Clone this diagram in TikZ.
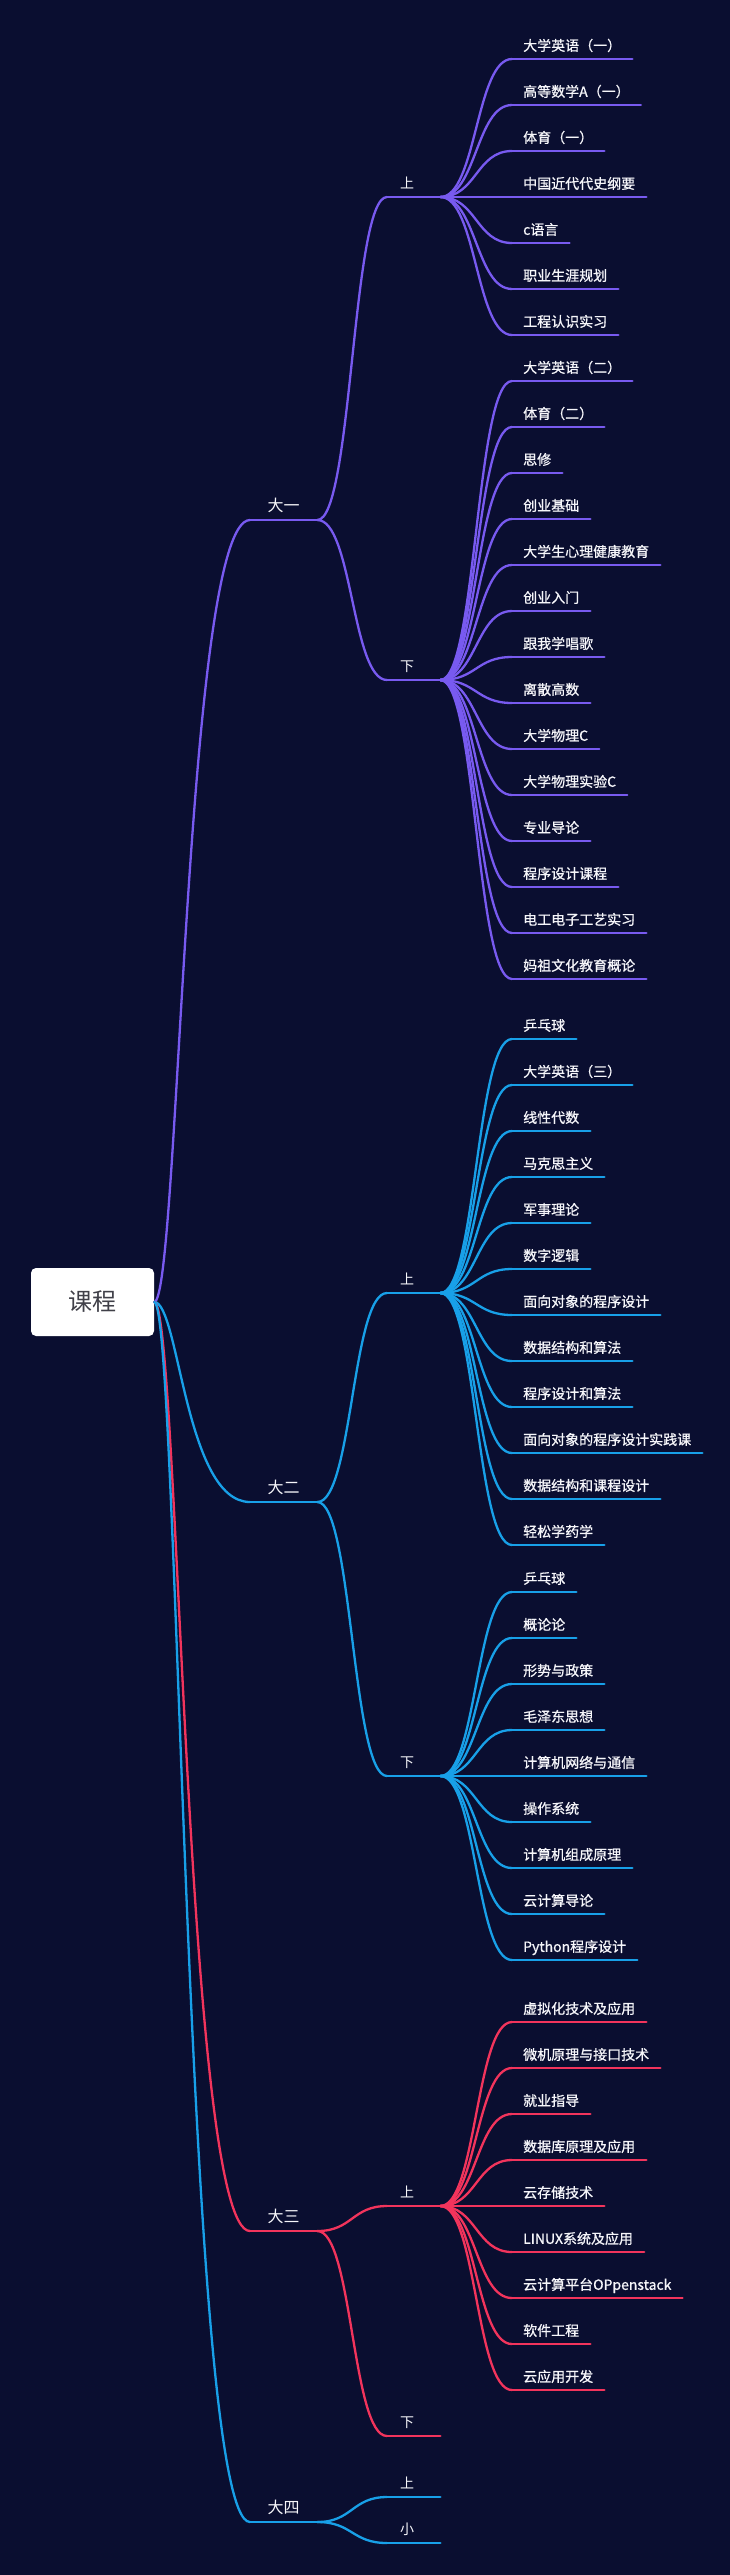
\documentclass[tikz,border=0pt]{standalone}
\usepackage{fontspec}
\newfontfamily\cjk[RawFeature={embolden=0.8}]{Noto Sans CJK SC}
\newfontfamily\cjkplain{Noto Sans CJK SC}
\definecolor{bgcol}{RGB}{10,14,48}
\definecolor{cpurple}{RGB}{120,90,240}
\definecolor{ccyan}{RGB}{24,160,232}
\definecolor{cred}{RGB}{242,52,92}
\definecolor{ctext}{RGB}{246,246,250}
\definecolor{croot}{RGB}{64,64,72}
\tikzset{
  branch/.style={
    draw=#1,
    line width=2.3pt,
    line cap=round,
  },
  rootbox/.style={
    fill=white,
    rounded corners=5pt,
    minimum width=123pt,
    minimum height=68pt,
    text=croot,
    font=\cjkplain\fontsize{24}{24}\selectfont,
  },
  year/.style={
    anchor=south west,
    text=ctext,
    font=\cjkplain\fontsize{16}{16}\selectfont,
    inner xsep=17.5pt,
    inner ysep=5pt,
    text height=12pt,
    text depth=3pt,
    append after command={(\tikzlastnode.south west) edge[branch=#1] (\tikzlastnode.south east)},
  },
  term/.style={
    anchor=south west,
    text=ctext,
    font=\cjkplain\fontsize{14}{14}\selectfont,
    text width=27pt,
    align=left,
    inner xsep=13pt,
    inner ysep=5pt,
    text height=10pt,
    text depth=3pt,
    append after command={(\tikzlastnode.south west) edge[branch=#1] (\tikzlastnode.south east)},
  },
  leaf/.style={
    anchor=south west,
    text=ctext,
    font=\cjk\fontsize{14}{14}\selectfont,
    inner xsep=11pt,
    inner ysep=5pt,
    text height=10pt,
    text depth=3pt,
    append after command={(\tikzlastnode.south west) edge[branch=#1] (\tikzlastnode.south east)},
  }
}

\begin{document}
\begin{tikzpicture}[x=1pt, y=-1pt]
        \fill[bgcol] (0,0) rectangle (730,2575);

        \node [rootbox] (root) at (92.5,1302) {课程};

        \node [year=cpurple] (y1) at (250,520) {大一};
        \node [year=ccyan] (y2) at (250,1502) {大二};
        \node [year=cred] (y3) at (250,2231) {大三};
        \node [year=ccyan] (y4) at (250,2522) {大四};

        \draw [branch=cpurple] (root.east) .. controls +(25,0) and +(-65,0) .. (y1.south west);
        \draw [branch=ccyan] (root.east) .. controls +(25,0) and +(-65,0) .. (y2.south west);
        \draw [branch=cred] (root.east) .. controls +(25,0) and +(-65,0) .. (y3.south west);
        \draw [branch=ccyan] (root.east) .. controls +(25,0) and +(-65,0) .. (y4.south west);

        \node [term=cpurple] (y1a) at (387,197) {上};
        \node [term=cpurple] (y1b) at (387,680) {下};
        \node [term=ccyan] (y2a) at (387,1293) {上};
        \node [term=ccyan] (y2b) at (387,1776) {下};
        \node [term=cred] (y3a) at (387,2206) {上};
        \node [term=cred] (y3b) at (387,2436) {下};
        \node [term=ccyan] (y4a) at (387,2497) {上};
        \node [term=ccyan] (y4b) at (387,2543) {小};

        \foreach \p/\c/\col in {y1/y1a/cpurple, y1/y1b/cpurple, y2/y2a/ccyan, y2/y2b/ccyan,
                                y3/y3a/cred, y3/y3b/cred, y4/y4a/ccyan, y4/y4b/ccyan}
          \draw [branch=\col] (\p.south east) .. controls +(35,0) and +(-35,0) .. (\c.south west);

        % first year
        \foreach \t [count=\i from 0] in {大学英语（一）, 高等数学A（一）, 体育（一）, 中国近代代史纲要,
                                          c语言, 职业生涯规划, 工程认识实习} {
          \node [leaf=cpurple] (y1a\i) at (512,59+46*\i) {\t};
          \draw [branch=cpurple] (y1a.south east) .. controls +(36,0) and +(-36,0) .. (y1a\i.south west);
        }
        \foreach \t [count=\i from 0] in {大学英语（二）, 体育（二）, 思修, 创业基础, 大学生心理健康教育,
                                          创业入门, 跟我学唱歌, 离散高数, 大学物理C, 大学物理实验C,
                                          专业导论, 程序设计课程, 电工电子工艺实习, 妈祖文化教育概论} {
          \node [leaf=cpurple] (y1b\i) at (512,381+46*\i) {\t};
          \draw [branch=cpurple] (y1b.south east) .. controls +(36,0) and +(-36,0) .. (y1b\i.south west);
        }

        % second year
        \foreach \t [count=\i from 0] in {乒乓球, 大学英语（三）, 线性代数, 马克思主义, 军事理论, 数字逻辑,
                                          面向对象的程序设计, 数据结构和算法, 程序设计和算法,
                                          面向对象的程序设计实践课, 数据结构和课程设计, 轻松学药学} {
          \node [leaf=ccyan] (y2a\i) at (512,1039+46*\i) {\t};
          \draw [branch=ccyan] (y2a.south east) .. controls +(36,0) and +(-36,0) .. (y2a\i.south west);
        }
        \foreach \t [count=\i from 0] in {乒乓球, 概论论, 形势与政策, 毛泽东思想, 计算机网络与通信,
                                          操作系统, 计算机组成原理, 云计算导论, Python程序设计} {
          \node [leaf=ccyan] (y2b\i) at (512,1592+46*\i) {\t};
          \draw [branch=ccyan] (y2b.south east) .. controls +(36,0) and +(-36,0) .. (y2b\i.south west);
        }

        % third year
        \foreach \t [count=\i from 0] in {虚拟化技术及应用, 微机原理与接口技术, 就业指导, 数据库原理及应用,
                                          云存储技术, LINUX系统及应用, 云计算平台OPpenstack, 软件工程, 云应用开发} {
          \node [leaf=cred] (y3a\i) at (512,2022+46*\i) {\t};
          \draw [branch=cred] (y3a.south east) .. controls +(36,0) and +(-36,0) .. (y3a\i.south west);
        }
      \end{tikzpicture}
\end{document}
